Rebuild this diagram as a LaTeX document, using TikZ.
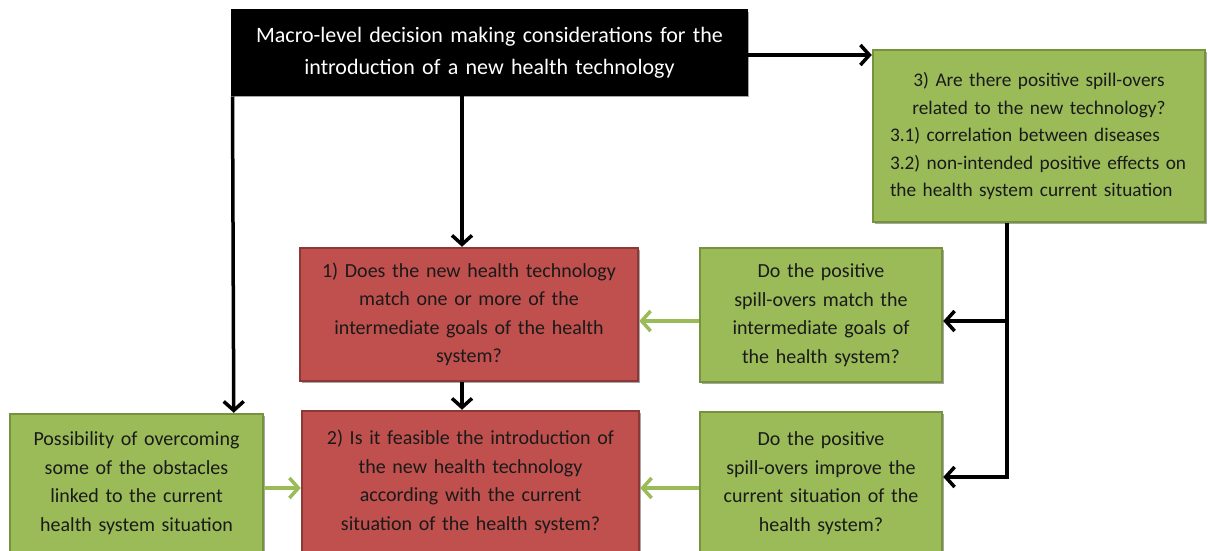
\documentclass[tikz,border=0pt]{standalone}
\usepackage{fontspec}
\setmainfont{Carlito}
\usetikzlibrary{arrows.meta,shadows}
\definecolor{gfill}{HTML}{9BBB59}
\definecolor{gdraw}{HTML}{76923C}
\definecolor{rfill}{HTML}{C0504D}
\definecolor{rdraw}{HTML}{8C3836}
\definecolor{garrow}{HTML}{9BBB59}
\definecolor{txt}{HTML}{1A1A1A}
\tikzset{
  box/.style={rectangle, line width=2.5pt, align=center, inner sep=4pt,
    font=\fontsize{20}{28.5}\selectfont, text=txt,
    drop shadow={shadow xshift=2pt, shadow yshift=-2pt, opacity=0.35, fill=black}},
  gbox/.style={box, fill=gfill, draw=gdraw},
  rbox/.style={box, fill=rfill, draw=rdraw},
  kbox/.style={box, fill=black, draw=black, text=white, font=\fontsize{22}{32}\selectfont},
  blk/.style={draw=black, line width=3.5pt, -{Straight Barb[length=9pt,width=20pt,line width=3.5pt]}},
  blkline/.style={draw=black, line width=3.5pt},
  grn/.style={draw=garrow, line width=3.5pt, -{Straight Barb[length=9pt,width=20pt,line width=3.5pt]}},
}
\begin{document}
\begin{tikzpicture}[x=1pt,y=-1pt]
\useasboundingbox (0,0) rectangle (1208,550);
\clip (0,0) rectangle (1208,550);
\node[kbox, minimum width=515pt, minimum height=85pt, text width=505pt] (top) at (489.5,52.5)
  {Macro-level decision making considerations for the\\introduction of a new health technology};
\node[gbox, minimum width=332pt, minimum height=172pt, text width=298pt,
      font=\fontsize{19.3}{27.5}\selectfont] (tr) at (1039,136)
  {\centering 3) Are there positive spill-overs\\related to the new technology?\par
   \raggedright 3.1) correlation between diseases\\3.2) non-intended positive effects on\\the health system current situation\par};
\node[rbox, minimum width=338pt, minimum height=133pt, text width=328pt] (r1) at (469,314.5)
  {1) Does the new health technology\\match one or more of the\\intermediate goals of the health\\system?};
\node[gbox, minimum width=242pt, minimum height=134pt, text width=232pt] (gm) at (821,315)
  {Do the positive\\spill-overs match the\\intermediate goals of\\the health system?};
\node[gbox, minimum width=253pt, minimum height=138pt, text width=243pt] (lg) at (136.5,483)
  {Possibility of overcoming\\some of the obstacles\\linked to the current\\health system situation};
\node[rbox, minimum width=337pt, minimum height=142pt, text width=327pt] (r2) at (470.5,482)
  {2) Is it feasible the introduction of\\the new health technology\\according with the current\\situation of the health system?};
\node[gbox, minimum width=242pt, minimum height=142pt, text width=232pt] (gb) at (821,483)
  {Do the positive\\spill-overs improve the\\current situation of the\\health system?};
% coordinates
\coordinate (j1) at (1007,321);
\coordinate (j2) at (1007,477);
% black arrows
\draw[blk] (top.east |- 0,55) -- (tr.west |- 0,55);
\draw[blk] (top.south west) ++(1.75pt,0) -- (lg.north -| 233.75,0);
\draw[blk] (top.south -| r1.north) ++(-7pt,0) coordinate (t1) -- (t1 |- r1.north);
\draw[blk] (r1.south) ++(-7pt,0) coordinate (t2) -- (t2 |- r2.north);
\draw[blkline] (tr.south -| j1) -- (j2);
\draw[blk] (j1) -- (j1 -| gm.east);
\draw[blk] (j2) ++(1.75pt,0) -- (j2 -| gb.east);
% green arrows
\draw[grn] (gm.west |- 0,321) -- (r1.east |- 0,321);
\draw[grn] (gb.west |- 0,488) -- (r2.east |- 0,488);
\draw[grn] (lg.east |- 0,488) -- (r2.west |- 0,488);
\end{tikzpicture}
\end{document}
